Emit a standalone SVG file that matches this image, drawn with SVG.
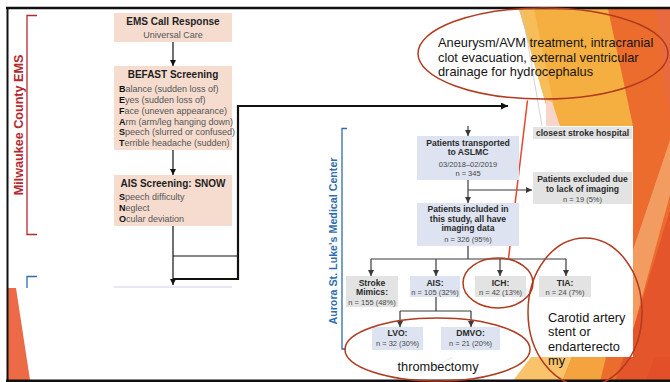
<svg xmlns="http://www.w3.org/2000/svg" width="670" height="382" viewBox="0 0 670 382">
<style>
text{font-family:"Liberation Sans",Arial,sans-serif}
.eb{font-size:10px;font-weight:bold;fill:#1e1e1e;text-anchor:middle}
.er{font-size:9px;fill:#555;text-anchor:middle}
.el{font-size:9px;fill:#555}
.el tspan{font-weight:bold;fill:#111}
.ab{font-size:8.6px;font-weight:bold;fill:#2a2a2a;text-anchor:middle}
.ar{font-size:7.5px;fill:#474747;text-anchor:middle}
.peach{fill:#f6dccf}
.blue{fill:#dde3f0}
.gray{fill:#e3e3e3}
.ann{font-size:12.8px;fill:#141414}
.ov{fill:none;stroke:#b13a1f;stroke-width:1.5}
.c1{fill:none;stroke:#111;stroke-width:1.2}
.c2{fill:none;stroke:#3a3a3a;stroke-width:1.2}
</style>
<defs>
<marker id="ah" viewBox="0 0 10 10" refX="10" refY="5" markerWidth="6" markerHeight="6" markerUnits="userSpaceOnUse" orient="auto"><path d="M0,0L10,5L0,10z" fill="#111"/></marker>
<marker id="ag" viewBox="0 0 10 10" refX="10" refY="5" markerWidth="6" markerHeight="6" markerUnits="userSpaceOnUse" orient="auto"><path d="M0,0L10,5L0,10z" fill="#3a3a3a"/></marker>
<marker id="at" viewBox="0 0 10 10" refX="10" refY="5" markerWidth="8" markerHeight="7" markerUnits="userSpaceOnUse" orient="auto"><path d="M0,0L10,5L0,10z" fill="#111"/></marker>
</defs>
<rect width="670" height="382" fill="#fff"/>
<!-- background facets -->
<g id="background">
<polygon points="600,9 670,9 670,382 560,382" fill="#ec6c2d"/>
<polygon points="519,9 608,9 633,126 552,126" fill="#f5ae40"/>
<polygon points="519,9 534,9 558,126 552,126" fill="#f7bd58"/>
<polygon points="546,100 552,102 560,126 546,126" fill="#f8d5ca"/>
<polygon points="656,9 670,9 670,120 662,60" fill="#ea6a40"/>
<polygon points="670,140 670,195 633,330 633,250" fill="#f29c62"/>
<polygon points="670,210 670,382 615,382 633,330" fill="#e4552b"/>
<polygon points="512,382 531,357 572,357 562,382" fill="#f9c36c"/>
<polygon points="562,382 572,357 606,357 600,382" fill="#f4a33f"/>
<polygon points="645,382 670,382 670,357 655,357" fill="#e24f29"/>
<polygon points="8,288 16,288 30,380 8,380" fill="#ec6a45"/>
<rect x="320" y="126" width="313" height="231" fill="#fff"/>
<line x1="522" y1="9" x2="542" y2="126" stroke="#c8c8c8" stroke-width="0.8"/>
<line x1="453" y1="357" x2="421" y2="373" stroke="#e2e2e2" stroke-width="0.8"/>
<line x1="114" y1="287" x2="232" y2="287" stroke="#cdd3e6" stroke-width="1"/>
</g>
<!-- slide frame -->
<g id="frame" fill="none" stroke="#111">
<line x1="6" y1="8" x2="670" y2="8" stroke-width="2.5"/>
<line x1="7.5" y1="7" x2="7.5" y2="381" stroke-width="2"/>
<line x1="6" y1="380.8" x2="670" y2="380.8" stroke-width="2.5"/>
</g>
<!-- brackets and side labels -->
<g id="ems-label">
<path d="M37,15.5H27V234.5H37" fill="none" stroke="#b5282e" stroke-width="1.3"/>
<text transform="translate(22.7,125) rotate(-90)" text-anchor="middle" font-size="12.6" font-weight="bold" fill="#b5282e">Milwaukee County EMS</text>
</g>
<g id="aslmc-label">
<path d="M37,276.5H27V288" fill="none" stroke="#2f6db0" stroke-width="1.3"/>
<path d="M347,128.5H342V349H346" fill="none" stroke="#2f6db0" stroke-width="1.3"/>
<text transform="translate(336.6,241) rotate(-90)" text-anchor="middle" font-size="10.7" font-weight="bold" fill="#2f6db0">Aurora St. Luke's Medical Center</text>
</g>
<!-- connectors -->
<g id="connectors">
<line class="c1" x1="173" y1="42" x2="173" y2="66" marker-end="url(#ah)"/>
<line class="c1" x1="173" y1="150" x2="173" y2="175" marker-end="url(#ah)"/>
<line class="c1" x1="173" y1="226" x2="173" y2="285" marker-end="url(#ah)"/>
<line class="c1" x1="173" y1="256" x2="238" y2="256"/>
<polyline points="173,279 238,279 238,106 508,106" fill="none" stroke="#111" stroke-width="2.2" marker-end="url(#at)"/>
<line class="c2" x1="468" y1="126" x2="468" y2="136" marker-end="url(#ag)"/>
<line class="c2" x1="468" y1="180" x2="468" y2="203" marker-end="url(#ag)"/>
<line class="c2" x1="468" y1="190" x2="532" y2="190" marker-end="url(#ag)"/>
<line class="c2" x1="468" y1="246" x2="468" y2="259"/>
<line class="c2" x1="371" y1="259" x2="566" y2="259"/>
<line class="c2" x1="371" y1="259" x2="371" y2="276" marker-end="url(#ag)"/>
<line class="c2" x1="436" y1="259" x2="436" y2="276" marker-end="url(#ag)"/>
<line class="c2" x1="500" y1="259" x2="500" y2="276" marker-end="url(#ag)"/>
<line class="c2" x1="566" y1="259" x2="566" y2="276" marker-end="url(#ag)"/>
<line class="c2" x1="436" y1="297" x2="436" y2="311"/>
<line class="c2" x1="400" y1="311" x2="471" y2="311"/>
<line class="c2" x1="400" y1="311" x2="400" y2="327" marker-end="url(#ag)"/>
<line class="c2" x1="471" y1="311" x2="471" y2="327" marker-end="url(#ag)"/>
<line x1="527.5" y1="100.5" x2="508.5" y2="258.5" stroke="#e8452a" stroke-width="1.5"/>
</g>
<!-- EMS nodes -->
<g id="ems-call">
<rect class="peach" x="114" y="13" width="118" height="29"/>
<text class="eb" x="173" y="24.5">EMS Call Response</text>
<text class="er" x="173" y="38">Universal Care</text>
</g>
<g id="befast">
<rect class="peach" x="114" y="66" width="118" height="84"/>
<text class="eb" x="173" y="78">BEFAST Screening</text>
<text class="el" x="119" y="92.2"><tspan>B</tspan>alance (sudden loss of)</text>
<text class="el" x="119" y="103"><tspan>E</tspan>yes (sudden loss of)</text>
<text class="el" x="119" y="113.8"><tspan>F</tspan>ace (uneven appearance)</text>
<text class="el" x="119" y="124.6"><tspan>A</tspan>rm (arm/leg hanging down)</text>
<text class="el" x="119" y="135.4"><tspan>S</tspan>peech (slurred or confused)</text>
<text class="el" x="119" y="146.2"><tspan>T</tspan>errible headache (sudden)</text>
</g>
<g id="snow">
<rect class="peach" x="114" y="175" width="118" height="51"/>
<text class="eb" x="173" y="186.5">AIS Screening: SNOW</text>
<text class="el" x="119" y="200"><tspan>S</tspan>peech difficulty</text>
<text class="el" x="119" y="211"><tspan>N</tspan>eglect</text>
<text class="el" x="119" y="222"><tspan>O</tspan>cular deviation</text>
</g>
<!-- Aurora nodes -->
<g id="transported">
<rect class="blue" x="417" y="136" width="102" height="44"/>
<text class="ab" x="468" y="145.8">Patients transported</text>
<text class="ab" x="468" y="155">to ASLMC</text>
<text class="ar" x="468" y="166.7">03/2018–02/2019</text>
<text class="ar" x="468" y="176.2">n = 345</text>
</g>
<g id="closest">
<rect class="gray" x="533" y="127" width="99" height="12"/>
<text class="ab" x="582.5" y="136">closest stroke hospital</text>
</g>
<g id="excluded">
<rect class="gray" x="533" y="172" width="99" height="32"/>
<text class="ab" x="582.5" y="182.3">Patients excluded due</text>
<text class="ab" x="582.5" y="192">to lack of imaging</text>
<text class="ar" x="582.5" y="201.7">n = 19 (5%)</text>
</g>
<g id="included">
<rect class="blue" x="417" y="203" width="102" height="43"/>
<text class="ab" x="468" y="212.4">Patients included in</text>
<text class="ab" x="468" y="222.3">this study, all have</text>
<text class="ab" x="468" y="231.3">imaging data</text>
<text class="ar" x="468" y="241.7">n = 326 (95%)</text>
</g>
<g id="mimics">
<rect class="gray" x="346" y="276" width="52" height="31"/>
<text class="ab" x="372" y="285.8">Stroke</text>
<text class="ab" x="372" y="295.4">Mimics:</text>
<text class="ar" x="372" y="304.7">n = 155 (48%)</text>
</g>
<g id="ais">
<rect class="blue" x="410" y="276" width="50" height="21"/>
<text class="ab" x="435" y="285.8">AIS:</text>
<text class="ar" x="435" y="295">n = 105 (32%)</text>
</g>
<g id="ich">
<rect class="gray" x="475" y="276" width="51" height="21"/>
<text class="ab" x="500.5" y="285.8">ICH:</text>
<text class="ar" x="500.5" y="295">n = 42 (13%)</text>
</g>
<g id="tia">
<rect class="gray" x="539" y="276" width="52" height="21"/>
<text class="ab" x="565" y="285.8">TIA:</text>
<text class="ar" x="565" y="295">n = 24 (7%)</text>
</g>
<g id="lvo">
<rect class="blue" x="372" y="327" width="51" height="23"/>
<text class="ab" x="397.5" y="336.4">LVO:</text>
<text class="ar" x="397.5" y="346">n = 32 (30%)</text>
</g>
<g id="dmvo">
<rect class="blue" x="441" y="327" width="59" height="23"/>
<text class="ab" x="470.5" y="336.4">DMVO:</text>
<text class="ar" x="470.5" y="346">n = 21 (20%)</text>
</g>
<!-- annotations -->
<g id="ann-ich-treatment">
<ellipse class="ov" cx="543" cy="53.5" rx="125" ry="45.5"/>
<text class="ann" x="438" y="46.5">Aneurysm/AVM treatment, intracranial</text>
<text class="ann" x="438" y="61.5">clot evacuation, external ventricular</text>
<text class="ann" x="438" y="76">drainage for hydrocephalus</text>
</g>
<g id="ann-ich">
<ellipse class="ov" cx="498" cy="283" rx="35" ry="25"/>
</g>
<g id="ann-thrombectomy">
<ellipse class="ov" cx="437.5" cy="349.5" rx="92.5" ry="31.5"/>
<text class="ann" x="438" y="370.5" text-anchor="middle">thrombectomy</text>
</g>
<g id="ann-carotid">
<ellipse class="ov" cx="585" cy="312" rx="57" ry="74"/>
<text class="ann" x="548" y="321.5">Carotid artery</text>
<text class="ann" x="548" y="336">stent or</text>
<text class="ann" x="548" y="350.5">endarterecto</text>
<text class="ann" x="548" y="365">my</text>
</g>
</svg>
